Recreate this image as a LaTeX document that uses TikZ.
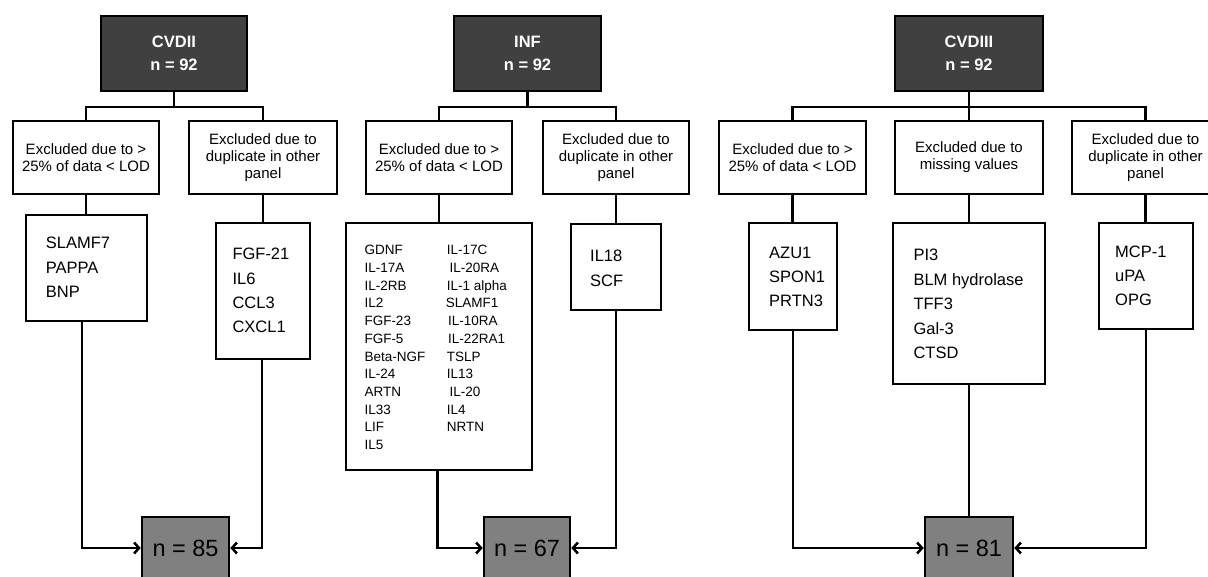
\documentclass[tikz,border=0pt]{standalone}
\usepackage{fontspec}
\setmainfont{Liberation Sans}
\usetikzlibrary{arrows.meta}
\definecolor{topfill}{RGB}{64,64,64}
\definecolor{nfill}{RGB}{128,128,128}
\tikzset{
 box/.style={draw=black, line width=2.5pt, inner sep=0pt, align=center},
 topbox/.style={box, fill=topfill, text=white, font=\fontsize{16.5}{23}\selectfont\bfseries},
 exbox/.style={box, fill=white, font=\fontsize{15}{17}\selectfont},
 itembox/.style={box, fill=white},
 nbox/.style={box, fill=nfill, font=\fontsize{23.5}{26}\selectfont},
 lst/.style={anchor=west, inner sep=0pt, font=\fontsize{16.5}{20}\selectfont, text height=11.8pt, text depth=0pt},
 lsts/.style={anchor=west, inner sep=0pt, font=\fontsize{13.5}{16}\selectfont, text height=9.7pt, text depth=0pt},
 conn/.style={line width=2.5pt},
 arr/.style={conn, -{Straight Barb[length=5pt,width=11pt]}},
}
\begin{document}
\begin{tikzpicture}[x=1pt,y=-1pt]
\useasboundingbox (0,0) rectangle (1208,576);
\clip (0,0) rectangle (1208,576);
\fill[white] (0,0) rectangle (1208,576);

% ---------------- CVDII ----------------
\node[topbox, minimum width=146, minimum height=75] (t1) at (174,53.5) {CVDII\\n = 92};
\node[exbox, minimum width=146, minimum height=73] (eL1) at (86,157.5) {Excluded due to >\\25\% of data < LOD};
\node[exbox, minimum width=148, minimum height=73] (eR1) at (263,157.5) {Excluded due to\\duplicate in other\\panel};
\node[itembox, minimum width=121, minimum height=106] (iL1) at (86.5,268) {};
\node[itembox, minimum width=94, minimum height=136] (iR1) at (263,291) {};
\node[nbox, minimum width=87, minimum height=62] (n1) at (185.5,548) {n = 85};
\node[lst] (a1) at (45.7,243) {SLAMF7};
\node[lst] (a2) at (45.7,267.5) {PAPPA};
\node[lst] (a3) at (45.7,292) {BNP};
\node[lst] (b1) at (232.3,254) {FGF-21};
\node[lst] (b2) at (232.3,278.3) {IL6};
\node[lst] (b3) at (232.3,302.5) {CCL3};
\node[lst] (b4) at (232.3,326.7) {CXCL1};
\coordinate (j1) at (174,107);
\draw[conn] (t1.south) -- (j1);
\draw[conn] (eL1.north) -- (eL1.north |- j1) -- (eR1.north |- j1) -- (eR1.north);
\draw[conn] (eL1.south) -- (eL1.south |- iL1.north);
\draw[conn] (eR1.south) -- (eR1.south |- iR1.north);
\draw[arr] ([xshift=-4.5pt]iL1.south) |- (n1.west);
\draw[arr] ([xshift=-1pt]iR1.south) |- (n1.east);

% ---------------- INF ----------------
\node[topbox, minimum width=147, minimum height=75] (t2) at (527.5,53.5) {INF\\n = 92};
\node[exbox, minimum width=146, minimum height=73] (eL2) at (439,157.5) {Excluded due to >\\25\% of data < LOD};
\node[exbox, minimum width=146, minimum height=73] (eR2) at (616,157.5) {Excluded due to\\duplicate in other\\panel};
\node[itembox, minimum width=186, minimum height=247] (iL2) at (439,346.5) {};
\node[itembox, minimum width=90, minimum height=86] (iR2) at (616,267) {};
\node[nbox, minimum width=86, minimum height=62] (n2) at (527,548) {n = 67};
\foreach \t [count=\k from 0] in {GDNF,IL-17A,IL-2RB,IL2,FGF-23,FGF-5,Beta-NGF,IL-24,ARTN,IL33,LIF,IL5}
  \node[lsts] (c\k) at (364.3,250+17.7*\k) {\t};
\foreach \t/\dx [count=\k from 0] in {IL-17C/0,IL-20RA/2.7,IL-1 alpha/0,SLAMF1/-1,IL-10RA/1.2,IL-22RA1/1.2,TSLP/0,IL13/0,IL-20/2.7,IL4/0,NRTN/0}
  \node[lsts] (d\k) at (446.7+\dx,250+17.7*\k) {\t};
\node[lst] (e1) at (590,256) {IL18};
\node[lst] (e2) at (590,281) {SCF};
\coordinate (j2) at (527.5,107);
\draw[conn] (t2.south) -- (j2);
\draw[conn] (eL2.north) -- (eL2.north |- j2) -- (eR2.north |- j2) -- (eR2.north);
\draw[conn] (eL2.south) -- (eL2.south |- iL2.north);
\draw[conn] (eR2.south) -- (eR2.south |- iR2.north);
\draw[arr] ([xshift=-1.7pt]iL2.south) |- (n2.west);
\draw[arr] (iR2.south) |- (n2.east);

% ---------------- CVDIII ----------------
\node[topbox, minimum width=148, minimum height=75] (t3) at (969,53.5) {CVDIII\\n = 92};
\node[exbox, minimum width=147, minimum height=73] (eL3) at (792.5,157.5) {Excluded due to >\\25\% of data < LOD};
\node[exbox, minimum width=148, minimum height=73] (eM3) at (969,157.5) {Excluded due to\\missing values};
\node[exbox, minimum width=147, minimum height=73] (eR3) at (1145.5,157.5) {Excluded due to\\duplicate in other\\panel};
\node[itembox, minimum width=88, minimum height=107] (iL3) at (793,276.5) {};
\node[itembox, minimum width=152, minimum height=161] (iM3) at (969,303.5) {};
\node[itembox, minimum width=94, minimum height=106] (iR3) at (1146,276) {};
\node[nbox, minimum width=88, minimum height=62] (n3) at (969,548) {n = 81};
\node[lst] (f1) at (769,252.3) {AZU1};
\node[lst] (f2) at (769,276.7) {SPON1};
\node[lst] (f3) at (769,300.7) {PRTN3};
\node[lst] (g1) at (913.3,255) {PI3};
\node[lst] (g2) at (913.3,279.3) {BLM hydrolase};
\node[lst] (g3) at (913.3,304) {TFF3};
\node[lst] (g4) at (913.3,328.3) {Gal-3};
\node[lst] (g5) at (913.3,352.7) {CTSD};
\node[lst] (h1) at (1115,251.7) {MCP-1};
\node[lst] (h2) at (1115,276) {uPA};
\node[lst] (h3) at (1115,300) {OPG};
\coordinate (j3) at (969,107);
\draw[conn] (t3.south) -- (j3);
\draw[conn] (eL3.north) -- (eL3.north |- j3) -- (eR3.north |- j3) -- (eR3.north);
\draw[conn] (eM3.north) -- (eM3.north |- j3);
\draw[conn] (eL3.south) -- (eL3.south |- iL3.north);
\draw[conn] (eM3.south) -- (eM3.south |- iM3.north);
\draw[conn] (eR3.south) -- (eR3.south |- iR3.north);
\draw[arr] (iL3.south) |- (n3.west);
\draw[conn] (iM3.south) -- (n3.north);
\draw[arr] (iR3.south) |- (n3.east);
\end{tikzpicture}
\end{document}
